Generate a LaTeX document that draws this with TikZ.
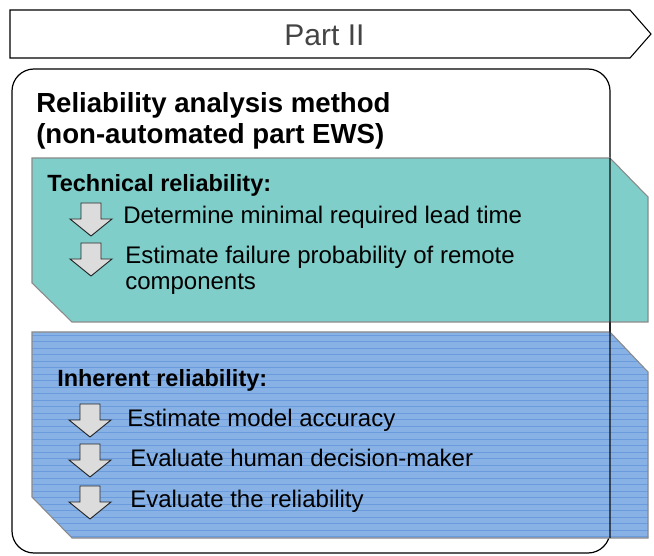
\documentclass[tikz,border=0pt]{standalone}
\usepackage{fontspec}
\setmainfont{Liberation Sans}
\definecolor{tealfill}{HTML}{80CECA}
\definecolor{bluefill}{HTML}{88B2E5}
\definecolor{bluestripe}{HTML}{6A9CDD}
\definecolor{shapeedge}{HTML}{8A8A8A}
\definecolor{arrowfill}{HTML}{DCDCDC}
\definecolor{bannertext}{HTML}{444444}
\tikzset{
  x=0.75pt, y=-0.75pt,
  body/.style={anchor=base west, inner sep=0pt, font=\fontsize{18}{21}\selectfont},
  head/.style={anchor=base west, inner sep=0pt, font=\fontsize{17.6}{21}\selectfont\bfseries},
  titletext/.style={anchor=base west, inner sep=0pt, font=\fontsize{20.7}{24}\selectfont\bfseries},
  pics/downarrow/.style={code={
    \draw[fill=arrowfill, draw=black!85, line width=0.7pt, line join=miter]
      (-10,0) -- (10,0) -- (10,16) -- (21,16) -- (0,33) -- (-21,16) -- (-10,16) -- cycle;
  }}
}
\begin{document}
\begin{tikzpicture}
\useasboundingbox (0,0) rectangle (654,556);
% banner
\draw[line width=0.8pt, fill=white] (10,10) -- (630,10) -- (651,34) -- (630,58) -- (10,58) -- cycle;
\node[inner sep=0pt, text=bannertext, font=\fontsize{22.5}{26}\selectfont] (part) at (324.5,35) {Part II};
% outer rounded box
\draw[line width=0.9pt, rounded corners=22pt*0.75] (12,69) rectangle (610,553);
\node[titletext] (title1) at (36,113) {Reliability analysis method};
\node[titletext] (title2) at (36,144) {(non-automated part EWS)};
% teal shape
\draw[fill=tealfill, draw=shapeedge, line width=0.8pt] (32,158) -- (610,158) -- (648,197) -- (648,322) -- (72,322) -- (32,283) -- cycle;
% blue shape
\begin{scope}
\clip (32,332) -- (610,332) -- (648,372) -- (648,538) -- (72,538) -- (32,497) -- cycle;
\fill[bluefill] (30,330) rectangle (650,540);
\foreach \yy in {335,341.5,...,540} {
  \draw[bluestripe, line width=0.4pt] (30,\yy) -- (650,\yy);
}
\end{scope}
\draw[draw=shapeedge, line width=0.8pt] (32,332) -- (610,332) -- (648,372) -- (648,538) -- (72,538) -- (32,497) -- cycle;
% right edge of outer box over shapes
\draw[black, opacity=0.6, line width=0.9pt] (610,158) -- (610,538);
% technical
\node[head] (tech) at (47,191.5) {Technical reliability:};
\pic at (91,203) {downarrow};
\pic at (91,243) {downarrow};
\node[body] (t1) at (123,224) {Determine minimal required lead time};
\node[body] (t2) at (125,263.5) {Estimate failure probability of remote};
\node[body] (t3) at (125,290) {components};
% inherent
\node[head] (inh) at (57,386.5) {Inherent reliability:};
\pic at (90,404) {downarrow};
\pic at (90,444) {downarrow};
\pic at (90,486) {downarrow};
\node[body] (i1) at (127,426) {Estimate model accuracy};
\node[body] (i2) at (130,466) {Evaluate human decision-maker};
\node[body] (i3) at (130,507) {Evaluate the reliability};
\end{tikzpicture}
\end{document}
